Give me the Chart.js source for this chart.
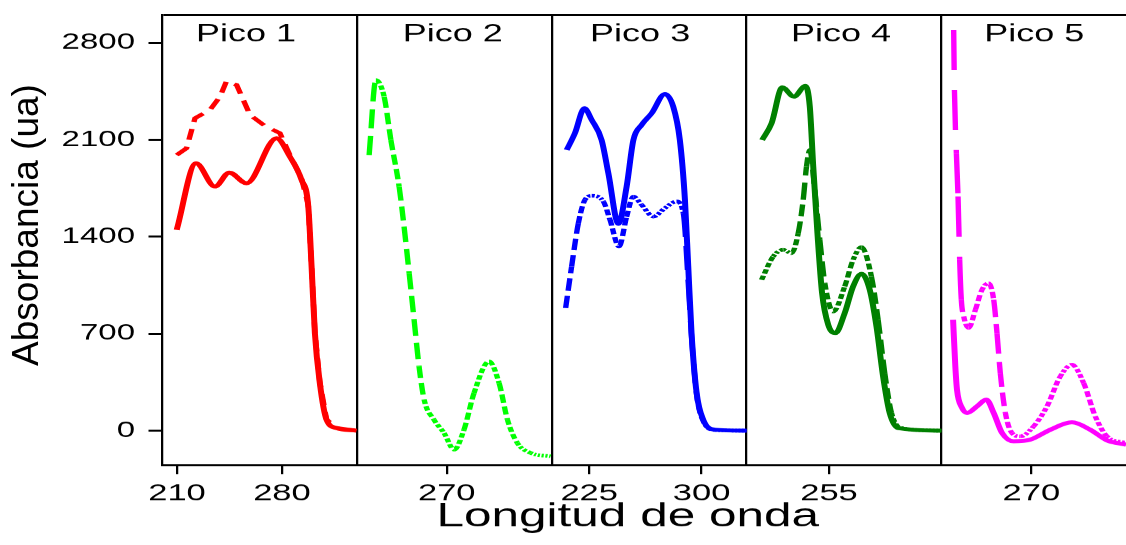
<!DOCTYPE html>
<html>
<head>
<meta charset="utf-8">
<script src="https://cdn.jsdelivr.net/npm/chart.js"></script>
<style>
  html, body { margin: 0; padding: 0; background: #fff; overflow: hidden; }
  #wrap { position: relative; width: 1126px; height: 545px; overflow: hidden; }
  /* the plot is laid out narrow and widened 1.5x, like the original figure */
  #stretch { position: absolute; left: 0; top: 0; width: 751px; height: 545px;
             transform: scaleX(1.4993); transform-origin: 0 0; }
  #stretch canvas { width: 751px; height: 545px; }
  #ytitle { position: absolute; left: -124px; top: 205px; width: 300px; height: 40px;
            font: 37px/40px 'Liberation Sans', Arial, sans-serif; color: #000;
            text-align: center; transform: rotate(-90deg); white-space: nowrap; }
</style>
</head>
<body>
<div id="wrap">
  <div id="stretch"><canvas id="myChart" width="751" height="545"></canvas></div>
  <div id="ytitle">Absorbancia (ua)</div>
</div>
<script>
// five panels side by side, each one 130 nm wide
var panelStart = [200, 210, 200, 200, 210];
var panelSpan = 130;
var panelNames = ["Pico 1", "Pico 2", "Pico 3", "Pico 4", "Pico 5"];
var panelTicks = [[210, 280], [270], [225, 300], [255], [270]];
var yTicks = [0, 700, 1400, 2100, 2800];

// Pico 1
var pico1SolidNm  = [209.8, 222.7, 235.3, 244.9, 256.4, 276.4, 285.3, 293.1, 297.6, 299.8, 302, 305.3, 309.8, 316.4, 329.8];
var pico1SolidAbs = [1449, 1930, 1762, 1863, 1786, 2110, 1978, 1810, 1618, 1185, 704, 344, 79, 19, 0];
var pico1DashNm   = [209.8, 216.4, 222, 232, 238.7, 243.1, 249.8, 258.7, 268.7, 278.7, 285.3, 293.1, 297.6, 299.8, 302, 305.3, 309.8, 316.4, 329.8];
var pico1DashAbs  = [1990, 2039, 2255, 2315, 2411, 2524, 2495, 2279, 2199, 2147, 1990, 1820, 1630, 1190, 710, 350, 80, 20, 0];

// Pico 2
var pico2DashNm  = [218.2, 222.7, 228.2, 232.7, 238.2, 241.5, 244.9, 248.2, 251.5, 254.9, 261.5, 268.2, 274.9, 281.5, 288.2, 298.2, 304.9, 310.5, 317.1, 326, 339.3];
var pico2DashAbs = [1990, 2531, 2411, 2098, 1762, 1473, 1137, 800, 464, 224, 79, -17, -137, 7, 272, 500, 344, 79, -89, -161, -185];

// Pico 3
var pico3SolidNm  = [210, 215.5, 221.8, 226.7, 233.3, 237.8, 244.5, 250, 254.5, 260, 266.7, 275.5, 281.1, 285.5, 288.9, 291.1, 293.3, 296.7, 301.1, 308.9, 330];
var pico3SolidAbs = [2026, 2147, 2327, 2243, 2098, 1858, 1493, 1762, 2098, 2207, 2291, 2430, 2339, 2098, 1666, 1185, 704, 272, 79, 7, 0];
var pico3DashNm   = [209.3, 213.3, 217.8, 222.2, 226.7, 234.5, 238.9, 244.9, 250, 254.5, 260, 267.8, 275.5, 283.3, 287.8, 291.1, 293.3, 296.7, 301.1, 308.9, 330];
var pico3DashAbs  = [885, 1185, 1498, 1666, 1695, 1654, 1522, 1329, 1545, 1690, 1630, 1545, 1606, 1654, 1570, 1067, 680, 260, 70, 5, 0];

// Pico 4
var pico4SolidNm  = [210.4, 216.7, 223.8, 231.6, 239.3, 242.2, 244.5, 247.3, 250.4, 254.5, 259.3, 265.5, 271.1, 276.7, 282.2, 286.7, 291.1, 295.5, 301.1, 330];
var pico4SolidAbs = [2098, 2219, 2478, 2411, 2488, 2339, 1906, 1426, 993, 764, 704, 849, 1041, 1132, 1017, 752, 392, 128, 19, 0];
var pico4DashNm   = [210, 217.8, 224.5, 230, 234.5, 237.8, 240, 242.2, 245.5, 248.9, 252.2, 257.8, 265.5, 271.1, 276.7, 283.3, 287.8, 292.2, 296.7, 303.3, 330];
var pico4DashAbs  = [1089, 1257, 1305, 1281, 1426, 1666, 1906, 2026, 1738, 1377, 1065, 860, 1041, 1233, 1325, 1113, 800, 416, 128, 19, 0];

// Pico 5
var pico5SolidNm  = [217.8, 219.3, 220.4, 223.8, 227.1, 233.8, 240, 244.9, 250.5, 258.2, 269.3, 282.7, 297.1, 309.3, 320.5, 333.3];
var pico5SolidAbs = [800, 464, 296, 164, 128, 176, 224, 128, -17, -77, -65, 7, 60, 7, -70, -101];
var pico5DashNm   = [218.2, 218.7, 220, 221.1, 222.2, 223.3, 224.9, 228.2, 232.7, 237.1, 241.5, 244.9, 247.1, 249.3, 252.7, 257.1, 262.7, 271.5, 280.5, 289.3, 297.1, 304.9, 312.7, 320.5, 333.3];
var pico5DashAbs  = [2892, 2459, 2002, 1690, 1233, 945, 824, 741, 873, 1017, 1065, 945, 704, 416, 128, -17, -41, 31, 176, 392, 476, 344, 103, -41, -89];

var FONT = "'Liberation Sans', Arial, Helvetica, sans-serif";
var STRETCH = 1126 / 751;
var yMin = -250, yMax = 3000;
var xMax = 4 * panelSpan + 123.5;   // last panel is cut by the figure edge
var titleCenters = [256, 274, 259, 263, 272];

// position of a wavelength of a given panel on the shared x scale
function toX(panel, nm) {
    return panel * panelSpan + (nm - panelStart[panel]);
}

var boundaries = [];
for (var b = 1; b < panelStart.length; b++) boundaries.push(b * panelSpan);

var xLabels = new Map();
panelTicks.forEach(function (list, p) {
    list.forEach(function (nm) { xLabels.set(toX(p, nm), String(nm)); });
});
var xTickValues = boundaries.concat(Array.from(xLabels.keys())).sort(function (a, b) { return a - b; });

// dashes get longer where the curve is steep and turn into dots where it is flat
function variableDash(ctx) {
    var dx = Math.abs(ctx.p1.x - ctx.p0.x) * STRETCH;
    var dy = Math.abs(ctx.p1.y - ctx.p0.y);
    var s = dy / Math.max(dx, 0.1);
    return [Math.min(40, 1.2 + 1.6 * s), Math.min(20, 1 + 0.6 * s)];
}

var series = [
    { panel: 0, nm: pico1DashNm,  abs: pico1DashAbs,  color: "#ff0000", kind: "dash" },
    { panel: 0, nm: pico1SolidNm, abs: pico1SolidAbs, color: "#ff0000", kind: "solid" },
    { panel: 1, nm: pico2DashNm,  abs: pico2DashAbs,  color: "#00ff00", kind: "vary" },
    { panel: 2, nm: pico3DashNm,  abs: pico3DashAbs,  color: "#0000ff", kind: "vary" },
    { panel: 2, nm: pico3SolidNm, abs: pico3SolidAbs, color: "#0000ff", kind: "solid" },
    { panel: 3, nm: pico4DashNm,  abs: pico4DashAbs,  color: "#008000", kind: "vary" },
    { panel: 3, nm: pico4SolidNm, abs: pico4SolidAbs, color: "#008000", kind: "solid" },
    { panel: 4, nm: pico5DashNm,  abs: pico5DashAbs,  color: "#ff00ff", kind: "vary" },
    { panel: 4, nm: pico5SolidNm, abs: pico5SolidAbs, color: "#ff00ff", kind: "solid" }
];

var datasets = series.map(function (s) {
    var ds = {
        data: s.nm.map(function (w, i) { return { x: toX(s.panel, w), y: s.abs[i] }; }),
        borderColor: s.color,
        borderWidth: s.kind === "solid" ? 4 : 3.6,
        pointRadius: 0,
        fill: false
    };
    if (s.kind === "dash") {
        ds.tension = 0;
        ds.borderDash = [11, 7];
    } else {
        ds.cubicInterpolationMode = "monotone";
    }
    if (s.kind === "vary") {
        ds.segment = { borderDash: variableDash };
    }
    return ds;
});

// panel titles and the shared x axis title
var panelText = {
    id: "panelText",
    afterDraw: function (chart) {
        var ctx = chart.ctx, area = chart.chartArea, x = chart.scales.x;
        ctx.save();
        ctx.fillStyle = "#000";
        ctx.textAlign = "center";
        ctx.textBaseline = "alphabetic";
        ctx.font = "24px " + FONT;
        panelNames.forEach(function (name, i) {
            ctx.fillText(name, x.getPixelForValue(toX(i, titleCenters[i])), 41);
        });
        ctx.font = "33px " + FONT;
        ctx.fillText("Longitud de onda", (area.left + area.right) / 2 - 11, 526);
        ctx.restore();
    }
};

var chart = new Chart(document.getElementById("myChart").getContext("2d"), {
    type: "line",
    data: { datasets: datasets },
    plugins: [panelText],
    options: {
        responsive: false,
        devicePixelRatio: 1.5,
        animation: false,
        layout: { padding: { top: 15, right: 0, bottom: 0, left: 0 } },
        plugins: { legend: { display: false }, tooltip: { enabled: false } },
        scales: {
            x: {
                type: "linear",
                min: 0,
                max: xMax,
                afterBuildTicks: function (sc) {
                    sc.ticks = xTickValues.map(function (v) { return { value: v }; });
                },
                afterFit: function (sc) {
                    sc.height = 80;
                    sc.paddingLeft = 0;
                    sc.paddingRight = 0;
                },
                ticks: {
                    autoSkip: false,
                    maxRotation: 0,
                    padding: 6,
                    color: "#000",
                    font: { family: FONT, size: 23 },
                    callback: function (v) { return xLabels.has(v) ? xLabels.get(v) : ""; }
                },
                grid: {
                    lineWidth: 1.5,
                    tickLength: 9,
                    color: function (c) {
                        return c.tick && boundaries.indexOf(c.tick.value) >= 0 ? "#000" : "rgba(0,0,0,0)";
                    },
                    tickColor: function (c) {
                        return c.tick && xLabels.has(c.tick.value) ? "#000" : "rgba(0,0,0,0)";
                    }
                },
                border: { display: true, color: "#000", width: 2 }
            },
            y: {
                min: yMin,
                max: yMax,
                afterBuildTicks: function (sc) {
                    sc.ticks = yTicks.concat([yMax]).map(function (v) { return { value: v }; });
                },
                afterFit: function (sc) {
                    sc.width = 108;
                    sc.paddingTop = 0;
                    sc.paddingBottom = 0;
                },
                ticks: {
                    padding: 9,
                    color: "#000",
                    font: { family: FONT, size: 22 },
                    callback: function (v) { return v === yMax ? "" : String(v); }
                },
                grid: {
                    lineWidth: 2,
                    tickLength: 9,
                    color: function (c) {
                        return c.tick && c.tick.value === yMax ? "#000" : "rgba(0,0,0,0)";
                    },
                    tickColor: function (c) {
                        return c.tick && c.tick.value === yMax ? "rgba(0,0,0,0)" : "#000";
                    }
                },
                border: { display: true, color: "#000", width: 1.5 }
            }
        }
    }
});
</script>
</body>
</html>
